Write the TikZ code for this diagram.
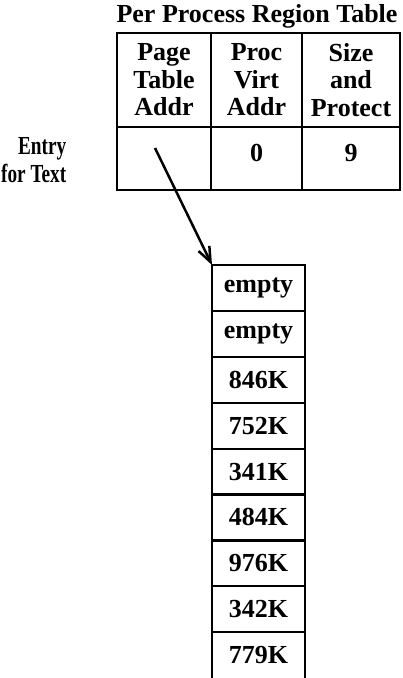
\documentclass[tikz,border=0pt]{standalone}
\usepackage{fontspec}
\setmainfont{Liberation Serif}
\usetikzlibrary{arrows.meta}
\begin{document}
\begin{tikzpicture}[x=1pt,y=-1pt,line width=2.2pt,
  txt/.style={font=\bfseries\fontsize{26}{27.5}\selectfont,align=center,inner sep=0pt},
  tcell/.style={txt,draw,rectangle,anchor=north west,outer sep=0pt,minimum height=#1},
  scell/.style={txt,draw,rectangle,anchor=north west,outer sep=0pt,minimum width=93pt,minimum height=45.9pt},
  valcell/.style={text depth=12pt}]
\useasboundingbox (0,0) rectangle (403,678);
% title
\node[txt] (title) at (257,16) {Per Process Region Table};
% header row
\node[tcell=94pt,minimum width=94pt] (h1) at (117,33) {Page\\Table\\Addr};
\node[tcell=94pt,minimum width=91pt] (h2) at (211,33) {Proc\\Virt\\Addr};
\node[tcell=94pt,minimum width=98pt] (h3) at (302,33) {Size\\and\\Protect};
% entry row
\node[tcell=63pt,minimum width=94pt] (e1) at (117,127) {};
\node[tcell=63pt,minimum width=91pt,valcell] (e2) at (211,127) {0};
\node[tcell=63pt,minimum width=98pt,valcell] (e3) at (302,127) {9};
\node[txt,align=right,anchor=east,xscale=0.74,transform shape] (entry) at (67,160) {Entry\\for Text};
% page table stack
\node[scell] (c1) at (212,265.0) {empty};
\node[scell] (c2) at (212,310.9) {empty};
\node[scell] (c3) at (212,356.8) {846K};
\node[scell] (c4) at (212,402.7) {752K};
\node[scell] (c5) at (212,448.6) {341K};
\node[scell] (c6) at (212,494.5) {484K};
\node[scell] (c7) at (212,540.4) {976K};
\node[scell] (c8) at (212,586.3) {342K};
\node[scell,draw=none] (c9) at (212,632.2) {779K};
\draw (c9.north west) -- (c9.south west);
\draw (c9.north east) -- (c9.south east);
% arrow
\coordinate (s) at (155,148);
\draw[line width=2.5pt,-{Straight Barb[length=15pt,width=12pt]}] (s) -- (c1.north west);
\end{tikzpicture}
\end{document}
